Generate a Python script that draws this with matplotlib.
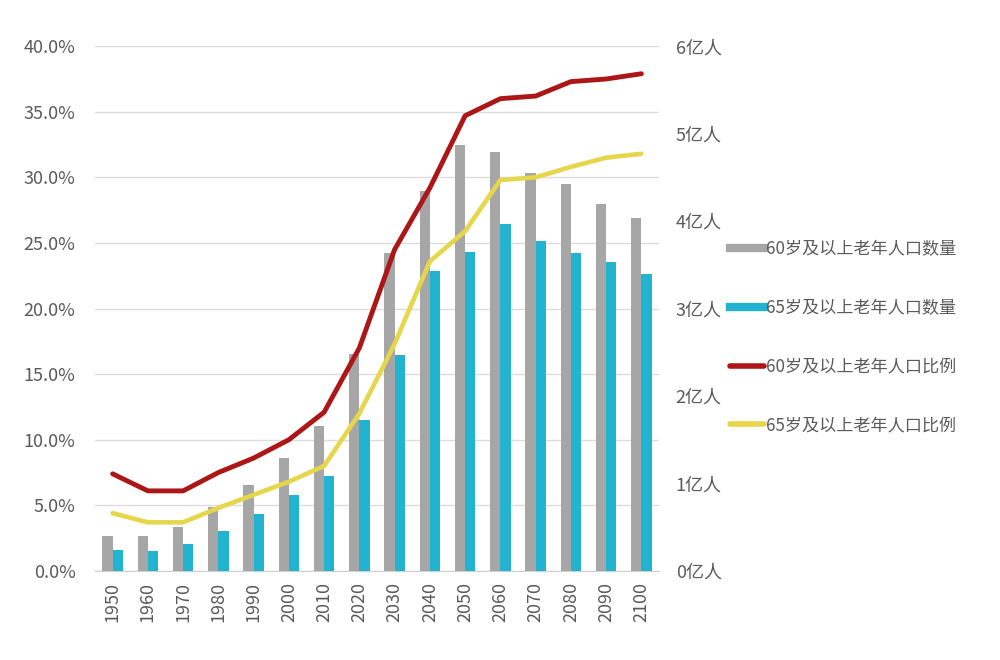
import numpy as np
from matplotlib import pyplot as plt
from matplotlib.lines import Line2D
from matplotlib.ticker import FuncFormatter

plt.rcParams["font.family"] = ["Noto Sans CJK SC", "DejaVu Sans"]

years = [1950, 1960, 1970, 1980, 1990, 2000, 2010, 2020,
         2030, 2040, 2050, 2060, 2070, 2080, 2090, 2100]
# population, 100 million persons (right axis)
pop_60 = [0.40, 0.40, 0.50, 0.73, 0.98, 1.29, 1.66, 2.48,
          3.64, 4.34, 4.87, 4.79, 4.55, 4.42, 4.20, 4.03]
pop_65 = [0.24, 0.23, 0.31, 0.46, 0.65, 0.87, 1.09, 1.72,
          2.47, 3.43, 3.65, 3.97, 3.77, 3.64, 3.53, 3.40]
# share of total population, percent (left axis)
ratio_60 = [7.4, 6.1, 6.1, 7.5, 8.6, 10.0, 12.1, 17.0,
            24.5, 29.2, 34.7, 36.0, 36.2, 37.3, 37.5, 37.9]
ratio_65 = [4.4, 3.7, 3.7, 4.8, 5.8, 6.8, 8.0, 12.0,
            17.3, 23.6, 25.9, 29.8, 30.0, 30.8, 31.5, 31.8]

labels = ["60岁及以上老年人口数量", "65岁及以上老年人口数量",
          "60岁及以上老年人口比例", "65岁及以上老年人口比例"]

GREY = "#a6a6a6"
CYAN = "#21b3cf"
RED = "#ad1616"
YELLOW = "#e6d64c"
TEXT = "#5a5a5a"

fig = plt.figure(figsize=(10, 6.6), dpi=100)
ax = fig.add_axes([0.095, 0.135, 0.564, 0.795])
ax2 = ax.twinx()
ax3 = ax.twinx()

x = np.arange(len(years))
w = 0.29

# percent axis: grid and left labels only
ax.set_ylim(0, 40)
ax.set_yticks(np.arange(0, 41, 5))
ax.yaxis.set_major_formatter(FuncFormatter(lambda v, p: f"{v:.1f}%"))
ax.grid(axis="y", color="#dcdcdc", lw=1)
ax.set_axisbelow(True)

# bars on the population axis
ax2.bar(x - w / 2, pop_60, w, color=GREY, zorder=2)
ax2.bar(x + w / 2, pop_65, w, color=CYAN, zorder=2)
ax2.set_ylim(0, 6)
ax2.set_yticks(range(0, 7))
ax2.set_yticklabels([f"{i}亿人" for i in range(0, 7)])

# ratio lines on top
ax3.plot(x, ratio_60, color=RED, lw=3.5, solid_capstyle="round", solid_joinstyle="round")
ax3.plot(x, ratio_65, color=YELLOW, lw=3.3, solid_capstyle="round", solid_joinstyle="round")
ax3.set_ylim(0, 40)
ax3.set_yticks([])

for a in (ax, ax2, ax3):
    a.set_xlim(-0.5, len(years) - 0.5)
    for s in a.spines.values():
        s.set_visible(False)
ax.spines["bottom"].set_visible(True)
ax.spines["bottom"].set_color("#d0d0d0")

ax.set_xticks(x)
ax.set_xticklabels([str(y) for y in years], rotation=90)
ax.tick_params(axis="x", length=0, pad=8, labelsize=13, labelcolor=TEXT)
ax.tick_params(axis="y", length=0, pad=14, labelsize=13, labelcolor=TEXT)
ax2.tick_params(axis="y", length=0, pad=12, labelsize=13, labelcolor=TEXT)

handles = [Line2D([], [], color=GREY, lw=6),
           Line2D([], [], color=CYAN, lw=6),
           Line2D([], [], color=RED, lw=4, solid_capstyle="round"),
           Line2D([], [], color=YELLOW, lw=4, solid_capstyle="round")]
fig.legend(handles, labels, loc="upper left", bbox_to_anchor=(0.723, 0.646),
           frameon=False, fontsize=12.3, labelcolor=TEXT, handlelength=2.0,
           handletextpad=0.1, labelspacing=2.38, borderaxespad=0)

fig.savefig("out.png", dpi=100)
